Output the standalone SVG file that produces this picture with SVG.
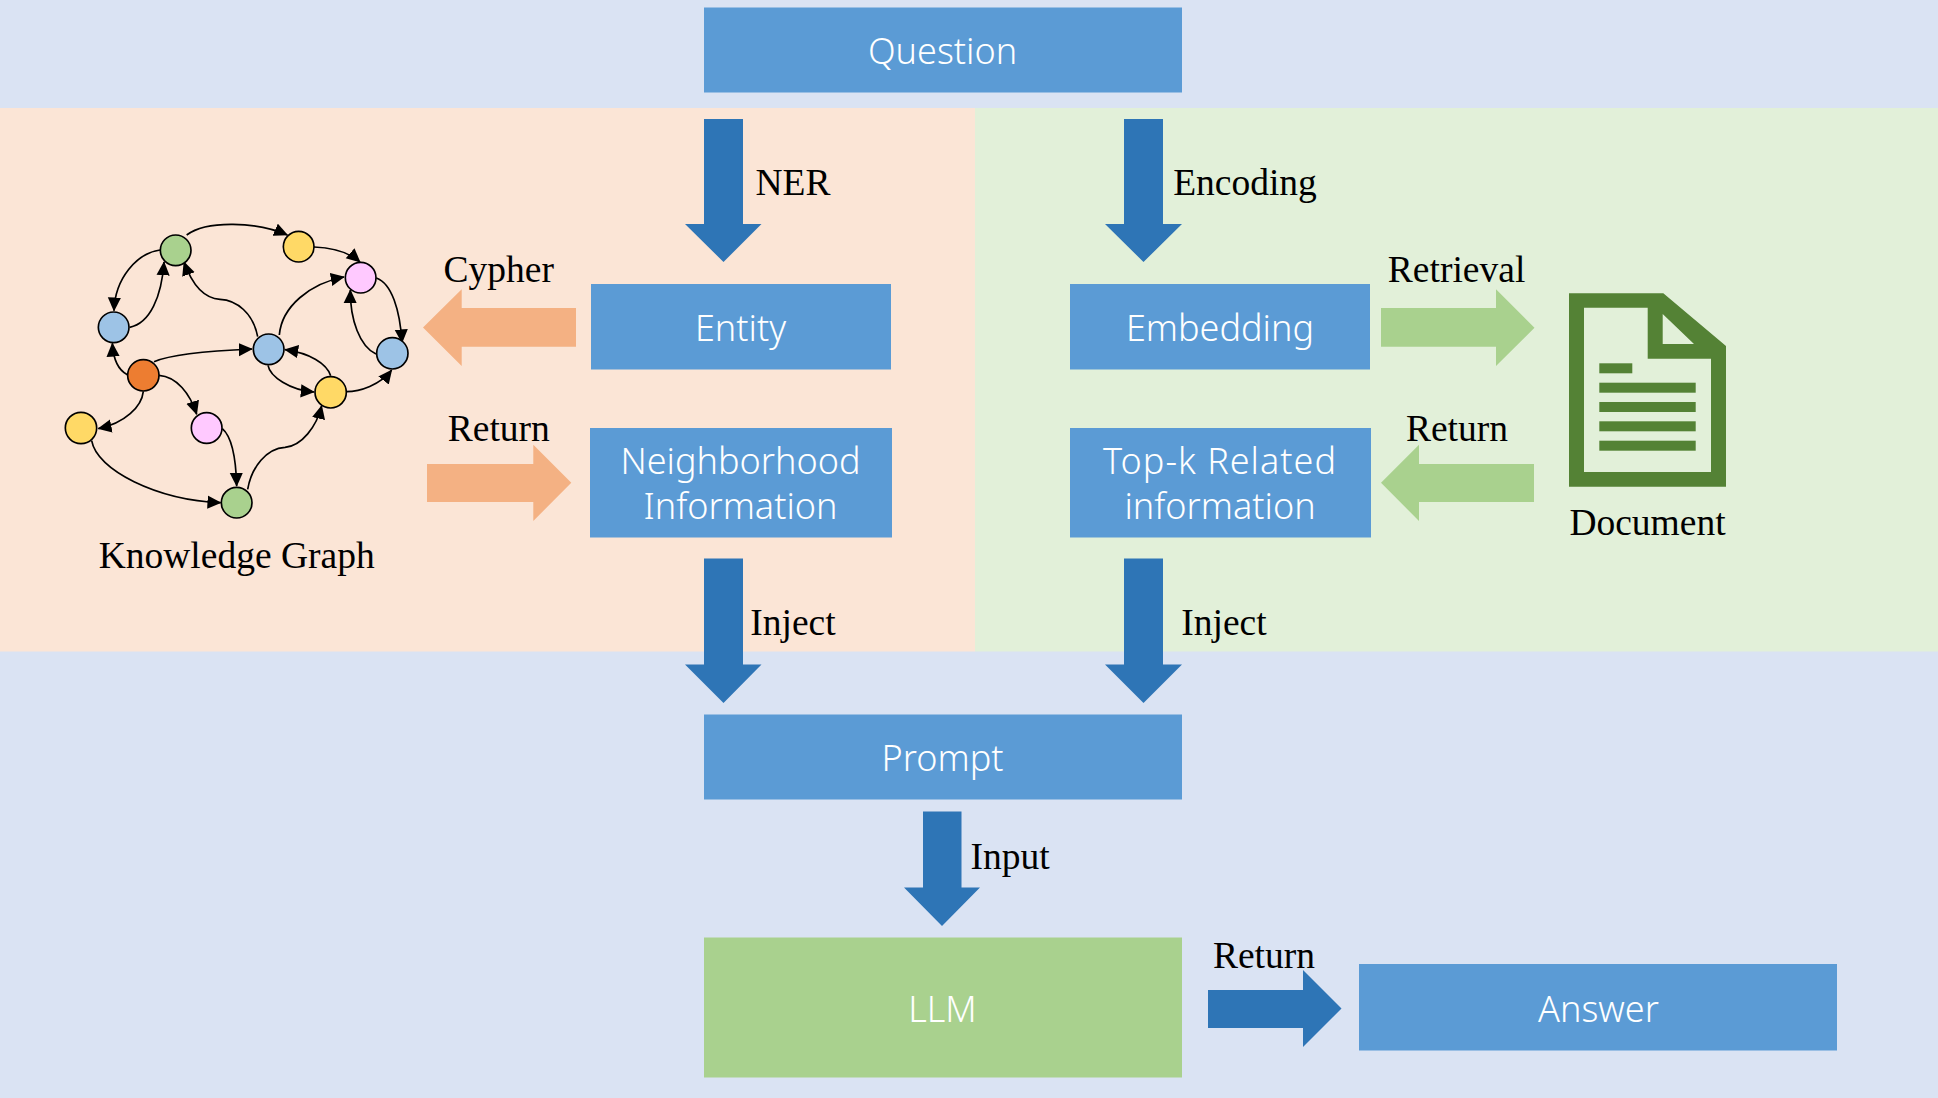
<svg xmlns="http://www.w3.org/2000/svg" width="1938" height="1098" viewBox="0 0 1938 1098">
<style>
.box{fill:#5B9BD5}
.bt{font-family:"Noto Sans","Open Sans",sans-serif;font-weight:300;font-size:36px;fill:#fff;text-anchor:middle}
.lb{font-family:"Liberation Serif",serif;font-size:37.500px;fill:#000;text-anchor:middle}
.da{fill:#2E75B6}.oa{fill:#F4B183}.ga{fill:#A9D18E}
.e{fill:none;stroke:#000;stroke-width:5;marker-end:url(#h)}
.n{stroke:#000;stroke-width:5}
.doc{fill:#548235}
</style>
<defs>
<marker id="h" markerUnits="userSpaceOnUse" markerWidth="42" markerHeight="42" viewBox="0 0 36 36" refX="34" refY="18" orient="auto"><path d="M0,1L36,18L0,35Z" fill="#000"/></marker>
</defs>
<rect id="bg" width="1938" height="1098" fill="#DAE3F3"/>
<rect id="bg-kg" x="0" y="108" width="975" height="543.500" fill="#FBE5D6"/>
<rect id="bg-doc" x="975" y="108" width="963" height="543.500" fill="#E2F0D9"/>

<g id="connectors">
<polygon class="da" points="704,119 743,119 743,224 761.500,224 723.500,262 685,224 704,224"/>
<polygon class="da" points="1124,119 1163,119 1163,224 1182,224 1143.500,262 1105,224 1124,224"/>
<polygon class="da" points="704,558.500 743,558.500 743,664.500 761.500,664.500 723.500,703 685,664.500 704,664.500"/>
<polygon class="da" points="1124,558.500 1163,558.500 1163,664.500 1182,664.500 1143.500,703 1105,664.500 1124,664.500"/>
<polygon class="da" points="923,811.500 961.500,811.500 961.500,887.500 980,887.500 942,926 904,887.500 923,887.500"/>
<polygon class="da" points="1208,990 1303,990 1303,970 1341.500,1008.500 1303,1047 1303,1028 1208,1028"/>
<polygon class="oa" points="576,308 461.700,308 461.700,289.300 423,327.500 461.700,366 461.700,346.700 576,346.700"/>
<polygon class="oa" points="427,464 533.300,464 533.300,444.700 571.300,482.700 533.300,521 533.300,502 427,502"/>
<polygon class="ga" points="1381,308 1496,308 1496,289.300 1534.500,327.700 1496,366 1496,346.700 1381,346.700"/>
<polygon class="ga" points="1534,464 1419,464 1419,444.700 1381,482.700 1419,521 1419,502 1534,502"/>
</g>

<g id="question"><rect class="box" x="704" y="7.500" width="478" height="85"/><text class="bt" x="942.500" y="64">Question</text></g>
<g id="entity"><rect class="box" x="591" y="284" width="300" height="85.500"/><text class="bt" x="740.500" y="341">Entity</text></g>
<g id="neighborhood"><rect class="box" x="590" y="428" width="302" height="109.500"/><text class="bt" x="740.500" y="474">Neighborhood</text><text class="bt" x="740.500" y="519">Information</text></g>
<g id="embedding"><rect class="box" x="1070" y="284" width="300" height="85.500"/><text class="bt" x="1220" y="341">Embedding</text></g>
<g id="topk"><rect class="box" x="1070" y="428" width="301" height="109.500"/><text class="bt" x="1220" y="474" letter-spacing="1">Top-k Related</text><text class="bt" x="1220" y="519">information</text></g>
<g id="prompt"><rect class="box" x="704" y="714.500" width="478" height="85"/><text class="bt" x="942.500" y="771">Prompt</text></g>
<g id="llm"><rect class="ga" x="704" y="937.500" width="478" height="140"/><text class="bt" x="942.500" y="1022">LLM</text></g>
<g id="answer"><rect class="box" x="1359" y="964" width="478" height="86.500"/><text class="bt" x="1598.500" y="1022">Answer</text></g>

<g id="knowledge-graph" transform="translate(40,200) scale(.33333)">
<g id="kg-edges">
<path class="e" d="M440,105C500,60 650,65 742,105"/>
<path class="e" d="M822,141C870,143 925,155 960,186"/>
<path class="e" d="M1009,234C1055,250 1080,330 1086,428"/>
<path class="e" d="M1008,462C960,440 930,360 931,270"/>
<path class="e" d="M360,150C290,160 225,235 222,332"/>
<path class="e" d="M269,382C330,370 365,290 372,186"/>
<path class="e" d="M653,410C640,340 590,300 540,298C490,295 455,250 432,186"/>
<path class="e" d="M718,405C725,320 810,250 912,231"/>
<path class="e" d="M342,485C400,460 520,452 636,447"/>
<path class="e" d="M262,524C235,510 220,480 217,430"/>
<path class="e" d="M357,526C410,530 450,580 470,643"/>
<path class="e" d="M310,574C305,620 255,670 175,686"/>
<path class="e" d="M155,722C170,810 350,900 542,908"/>
<path class="e" d="M547,686C575,710 588,780 590,858"/>
<path class="e" d="M623,868C635,800 680,745 735,742C785,738 830,680 845,617"/>
<path class="e" d="M684,496C690,530 750,570 822,576"/>
<path class="e" d="M872,527C860,490 810,460 735,449"/>
<path class="e" d="M919,575C960,575 1020,555 1055,510"/>
</g>
<g id="kg-n1"><circle class="n" cx="407" cy="151" r="46" fill="#A9D18E"/></g>
<g id="kg-n2"><circle class="n" cx="776" cy="140" r="46" fill="#FFD966"/></g>
<g id="kg-n3"><circle class="n" cx="962" cy="233" r="46" fill="#FFC9FF"/></g>
<g id="kg-n4"><circle class="n" cx="221" cy="382" r="46" fill="#9DC3E6"/></g>
<g id="kg-n5"><circle class="n" cx="686" cy="448" r="46" fill="#9DC3E6"/></g>
<g id="kg-n6"><circle class="n" cx="1057" cy="460" r="47" fill="#9DC3E6"/></g>
<g id="kg-n7"><circle class="n" cx="310" cy="526" r="47" fill="#ED7D31"/></g>
<g id="kg-n8"><circle class="n" cx="872" cy="577" r="47" fill="#FFD966"/></g>
<g id="kg-n9"><circle class="n" cx="123" cy="684" r="47" fill="#FFD966"/></g>
<g id="kg-n10"><circle class="n" cx="500" cy="684" r="46" fill="#FFC9FF"/></g>
<g id="kg-n11"><circle class="n" cx="590" cy="908" r="46" fill="#A9D18E"/></g>
</g>

<g id="document">
<path class="doc" fill-rule="evenodd" d="M1569,293.300H1663.300L1726,346V486.700H1569ZM1584,307.700V472H1711V358.700H1647.700V307.700ZM1662.700,314V344H1694Z"/>
<rect class="doc" x="1599.300" y="363.300" width="33" height="10"/>
<rect class="doc" x="1599.300" y="382.700" width="96.400" height="10"/>
<rect class="doc" x="1599.300" y="402" width="96.400" height="10"/>
<rect class="doc" x="1599.300" y="421.300" width="96.400" height="10"/>
<rect class="doc" x="1599.300" y="440.700" width="96.400" height="10"/>
</g>

<g id="labels">
<text class="lb" x="793" y="194.500">NER</text>
<text class="lb" x="1245" y="194.500">Encoding</text>
<text class="lb" x="498.800" y="281.700">Cypher</text>
<text class="lb" x="498.800" y="440.700">Return</text>
<text class="lb" x="1456.600" y="281.700">Retrieval</text>
<text class="lb" x="1457" y="440.700">Return</text>
<text class="lb" x="1647.500" y="535">Document</text>
<text class="lb" x="236.700" y="567.700">Knowledge Graph</text>
<text class="lb" x="793" y="634.500">Inject</text>
<text class="lb" x="1224" y="634.500">Inject</text>
<text class="lb" x="1010" y="868.500">Input</text>
<text class="lb" x="1264" y="968">Return</text>
</g>
</svg>
